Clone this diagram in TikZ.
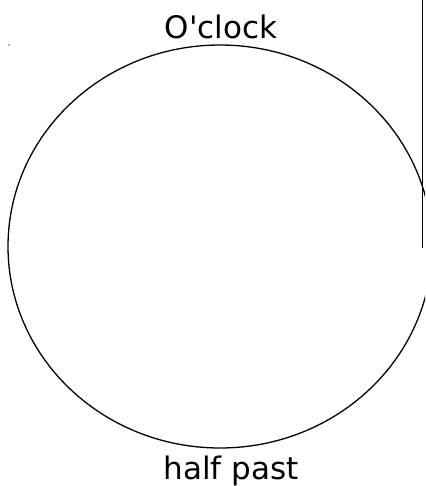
\documentclass[tikz,border=0pt]{standalone}
\usepackage{fontspec}
\setmainfont{DejaVu Sans}
\usetikzlibrary{positioning}
\definecolor{dialgray}{RGB}{110,110,110}

\begin{document}
\begin{tikzpicture}[x=1pt, y=-1pt,
  lbl/.style={anchor=base, inner sep=0pt, font=\fontsize{31}{36}\selectfont}]
\useasboundingbox (0,0) rectangle (425,486);
\clip (0,0) rectangle (425,486);

% clock face
\coordinate (centre) at (220,246.5);
\draw[line width=1.3pt] (centre) ellipse [x radius=212pt, y radius=201.5pt];

% hand
\coordinate (handtop) at (422.5,0);
\coordinate (handend) at (422.5,248);
\draw[line width=1.4pt] (handtop) -- (handend);

% labels
\node[lbl] (oclock) at (221,39) {O\textquotesingle clock};
\node[lbl] (halfpast) at (231,479) {half past};

% stray mark
\fill[dialgray] (9,45) circle (0.9pt);
\end{tikzpicture}
\end{document}
